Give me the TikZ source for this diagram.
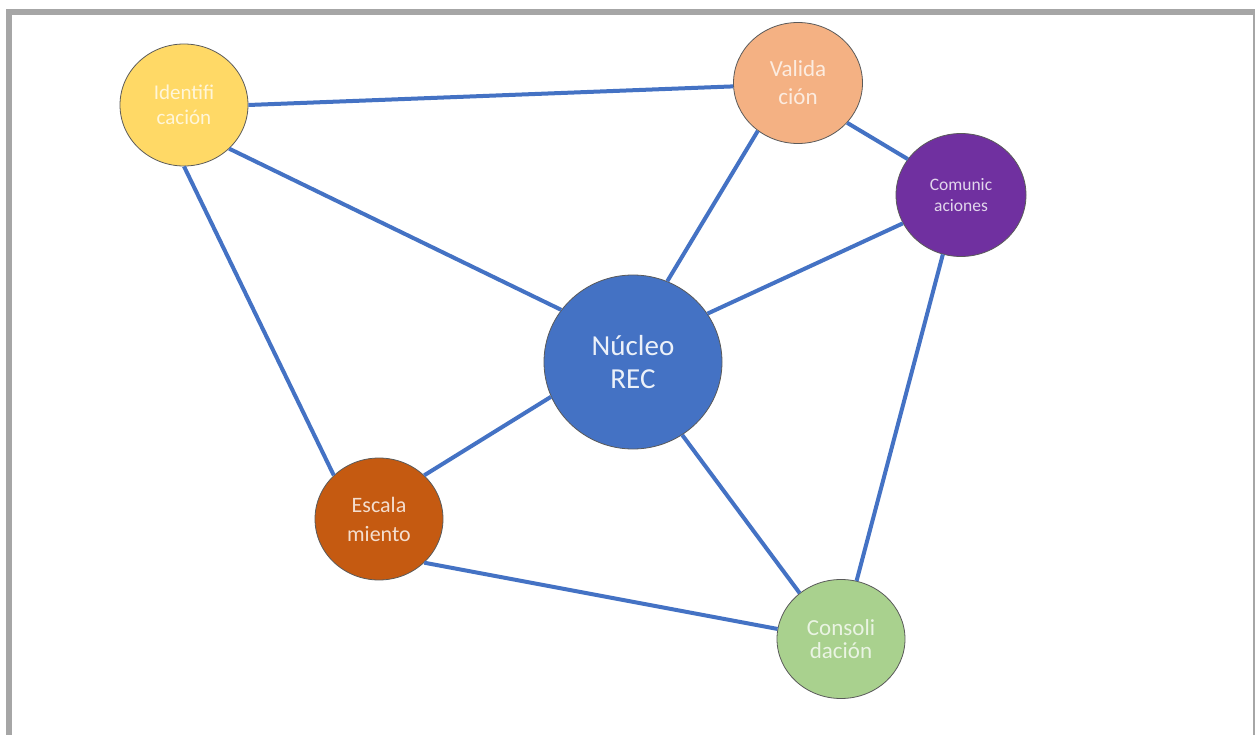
\documentclass[tikz,border=0pt]{standalone}
\usepackage{fontspec}
\setmainfont{Carlito}
\usetikzlibrary{shapes.geometric}
\definecolor{linkblue}{HTML}{4472C4}
\definecolor{framegray}{HTML}{A6A6A6}
\definecolor{identfill}{HTML}{FFD966}
\definecolor{validfill}{HTML}{F4B183}
\definecolor{comfill}{HTML}{7030A0}
\definecolor{corefill}{HTML}{4472C4}
\definecolor{escfill}{HTML}{C55A11}
\definecolor{consfill}{HTML}{A9D18E}
\definecolor{rim}{HTML}{5A5A5A}
\tikzset{
  bubble/.style={ellipse, draw=rim, line width=0.8pt, inner sep=0pt, align=center},
  link/.style={draw=linkblue, line width=4pt},
  lbl/.style n args={2}{font=\fontsize{#1}{#2}\selectfont}
}
\begin{document}
\begin{tikzpicture}[x=1pt,y=-1pt]
\useasboundingbox (0,0) rectangle (1255,735);
\fill[white] (0,0) rectangle (1255,735);
% frame
\fill[framegray] (6,9) rectangle (1255,15);
\fill[framegray] (6,9) rectangle (12,735);
\fill[framegray] (1253,9) rectangle (1255,735);

% bubbles
\node[bubble, fill=identfill, text=identfill!25!white, minimum width=128pt, minimum height=122pt,
      lbl={21}{25}] (I) at (184,105) {Identifi\\cación};
\node[bubble, fill=validfill, text=validfill!25!white, minimum width=129pt, minimum height=121pt,
      lbl={23}{28}] (V) at (798,83) {Valida\\ción};
\node[bubble, fill=comfill, text=comfill!20!white, minimum width=130pt, minimum height=123pt,
      lbl={17.5}{21}] (C) at (961,195) {Comunic\\aciones};
\node[bubble, fill=corefill, text=corefill!10!white, minimum width=178pt, minimum height=174pt,
      lbl={29}{33}] (N) at (633,362) {Núcleo\\REC};
\node[bubble, fill=escfill, text=escfill!20!white, minimum width=128pt, minimum height=122pt,
      lbl={22}{29}] (E) at (379,519) {Escala\\miento};
\node[bubble, fill=consfill, text=consfill!25!white, minimum width=128pt, minimum height=119pt,
      lbl={23}{23}] (K) at (841,639) {Consoli\\dación};

% connectors
\draw[link] (I.east) -- (V.183);
\draw[link] (I.-44) -- (N.144);
\draw[link] (I.south) -- (E.136);
\draw[link] (V.230) -- (N.67);
\draw[link] (V.-39) -- (C.146);
\draw[link] (C.206) -- (N.33);
\draw[link] (C.253) -- (K.75);
\draw[link] (N.203) -- (E.44);
\draw[link] (N.-56) -- (K.132);
\draw[link] (E.-44) -- (K.171);
\end{tikzpicture}
\end{document}
